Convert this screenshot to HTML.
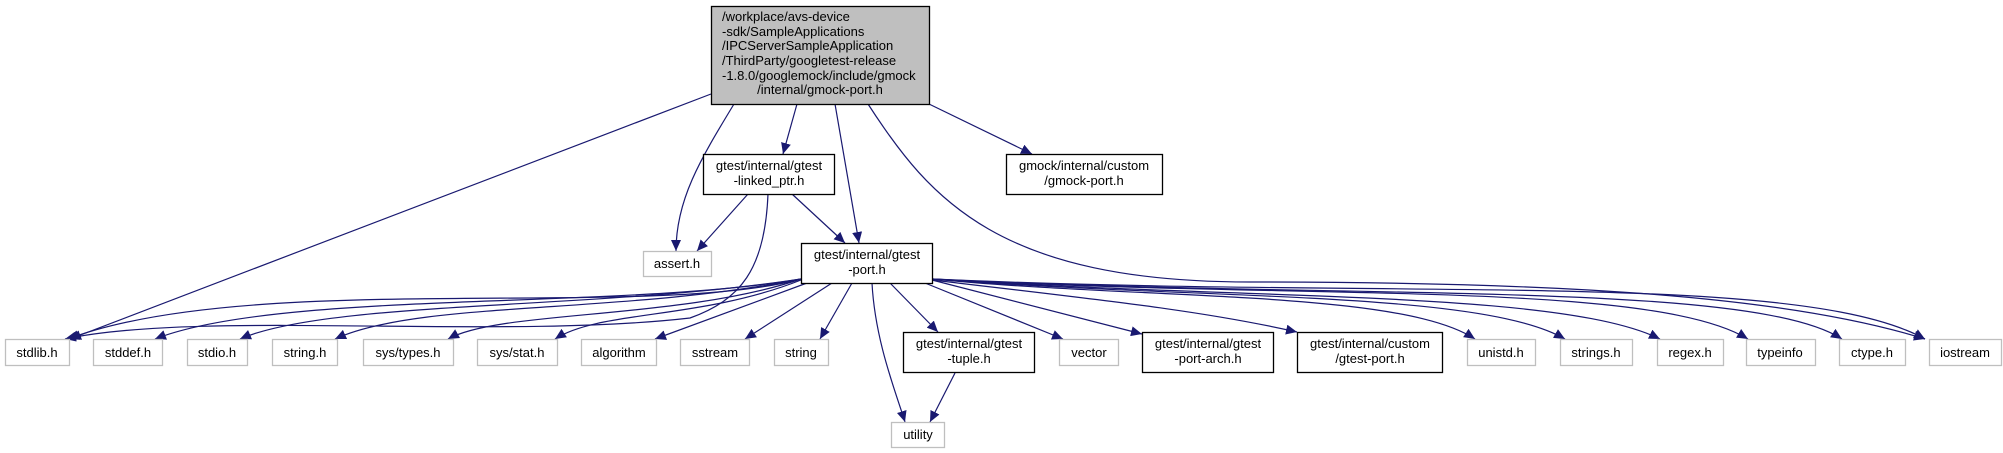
<!DOCTYPE html>
<html><head><meta charset="utf-8"><style>
html,body{margin:0;padding:0;background:#fff;}
svg{display:block;}
text{font-family:"Liberation Sans",sans-serif;font-size:13px;fill:#000;}
</style></head><body>
<svg width="2003" height="453" viewBox="0 0 2003 453" xmlns="http://www.w3.org/2000/svg">
<defs>
<marker id="a" markerUnits="userSpaceOnUse" markerWidth="12" markerHeight="10" refX="11" refY="5" orient="auto">
<path d="M0,0 L11,5 L0,10 Z" fill="#191970"/>
</marker>
</defs>
<g fill="none" stroke="#191970" stroke-width="1.2" marker-end="url(#a)">
<!-- main edges -->
<path d="M711,94 L70,339"/>
<path d="M734,104 C700,160 676,200 676,251"/>
<path d="M797,104 L783,154"/>
<path d="M835,104 L859,243"/>
<path d="M929,104 L1032,154"/>
<path d="M868,104 C930,200 1000,282 1250,282 C1600,282 1800,300 1925,339"/>
<!-- linked_ptr edges -->
<path d="M748,194 L697,251"/>
<path d="M792,194 L845,243"/>
<path d="M768,194 C765,270 740,300 690,318 C500,340 200,310 65,339"/>
<!-- gtest-port edges left -->
<path d="M801,279 C650,320 250,270 68,339"/>
<path d="M801,279 C620,310 280,290 155,339"/>
<path d="M801,279 C600,310 330,300 240,339"/>
<path d="M801,279 C620,315 420,300 335,339"/>
<path d="M801,279 C680,320 500,310 448,339"/>
<path d="M801,280 C700,320 600,310 555,339"/>
<path d="M807,283 L655,339"/>
<path d="M832,283 L745,339"/>
<path d="M852,283 L820,339"/>
<path d="M872,283 C875,340 895,390 905,422"/>
<path d="M890,283 L938,332"/>
<path d="M955,373 L930,422"/>
<!-- gtest-port edges right -->
<path d="M925,283 L1063,339"/>
<path d="M932,280 L1142,334"/>
<path d="M932,280 C1100,300 1200,310 1297,332"/>
<path d="M932,279 C1150,300 1400,290 1475,339"/>
<path d="M932,279 C1200,300 1480,290 1565,339"/>
<path d="M932,279 C1250,300 1560,290 1660,339"/>
<path d="M932,279 C1300,300 1650,280 1748,339"/>
<path d="M932,279 C1350,300 1750,280 1842,339"/>
<path d="M932,279 C1400,300 1800,270 1925,339"/>
</g>
<!-- main node -->
<rect x="711.5" y="6.5" width="218" height="98" fill="#bfbfbf" stroke="#000" stroke-width="1.3"/>
<text x="722" y="21">/workplace/avs-device</text>
<text x="722" y="36">-sdk/SampleApplications</text>
<text x="722" y="50">/IPCServerSampleApplication</text>
<text x="722" y="65">/ThirdParty/googletest-release</text>
<text x="722" y="80">-1.8.0/googlemock/include/gmock</text>
<text x="820" y="94" text-anchor="middle">/internal/gmock-port.h</text>
<!-- black boxes -->
<g fill="#fff" stroke="#000" stroke-width="1.3">
<rect x="703.5" y="154.5" width="131" height="40"/>
<rect x="1006.5" y="154.5" width="156" height="40"/>
<rect x="801.5" y="243.5" width="131" height="40"/>
<rect x="903.5" y="332.5" width="131" height="40"/>
<rect x="1142.5" y="332.5" width="131" height="40"/>
<rect x="1297.5" y="332.5" width="145" height="40"/>
</g>
<text x="769" y="170" text-anchor="middle">gtest/internal/gtest</text>
<text x="769" y="185" text-anchor="middle">-linked_ptr.h</text>
<text x="1084" y="170" text-anchor="middle">gmock/internal/custom</text>
<text x="1084" y="185" text-anchor="middle">/gmock-port.h</text>
<text x="867" y="259" text-anchor="middle">gtest/internal/gtest</text>
<text x="867" y="274" text-anchor="middle">-port.h</text>
<text x="969" y="348" text-anchor="middle">gtest/internal/gtest</text>
<text x="969" y="363" text-anchor="middle">-tuple.h</text>
<text x="1208" y="348" text-anchor="middle">gtest/internal/gtest</text>
<text x="1208" y="363" text-anchor="middle">-port-arch.h</text>
<text x="1370" y="348" text-anchor="middle">gtest/internal/custom</text>
<text x="1370" y="363" text-anchor="middle">/gtest-port.h</text>
<!-- gray boxes -->
<g fill="#fff" stroke="#bfbfbf" stroke-width="1.3">
<rect x="643.5" y="251.5" width="68" height="25"/>
<rect x="5.5" y="339.5" width="64" height="26"/>
<rect x="93.5" y="339.5" width="69" height="26"/>
<rect x="187.5" y="339.5" width="60" height="26"/>
<rect x="272.5" y="339.5" width="65" height="26"/>
<rect x="363.5" y="339.5" width="90" height="26"/>
<rect x="477.5" y="339.5" width="80" height="26"/>
<rect x="581.5" y="339.5" width="75" height="26"/>
<rect x="680.5" y="339.5" width="69" height="26"/>
<rect x="774.5" y="339.5" width="54" height="26"/>
<rect x="1059.5" y="339.5" width="59" height="26"/>
<rect x="1467.5" y="339.5" width="68" height="26"/>
<rect x="1560.5" y="339.5" width="72" height="26"/>
<rect x="1657.5" y="339.5" width="66" height="26"/>
<rect x="1746.5" y="339.5" width="69" height="26"/>
<rect x="1839.5" y="339.5" width="66" height="26"/>
<rect x="1929.5" y="339.5" width="72" height="26"/>
<rect x="891.5" y="422.5" width="53" height="25"/>
</g>
<g text-anchor="middle">
<text x="677" y="268">assert.h</text>
<text x="37" y="357">stdlib.h</text>
<text x="128" y="357">stddef.h</text>
<text x="217" y="357">stdio.h</text>
<text x="305" y="357">string.h</text>
<text x="408" y="357">sys/types.h</text>
<text x="517" y="357">sys/stat.h</text>
<text x="619" y="357">algorithm</text>
<text x="715" y="357">sstream</text>
<text x="801" y="357">string</text>
<text x="1089" y="357">vector</text>
<text x="1501" y="357">unistd.h</text>
<text x="1596" y="357">strings.h</text>
<text x="1690" y="357">regex.h</text>
<text x="1780" y="357">typeinfo</text>
<text x="1872" y="357">ctype.h</text>
<text x="1965" y="357">iostream</text>
<text x="918" y="439">utility</text>
</g>
</svg>
</body></html>
